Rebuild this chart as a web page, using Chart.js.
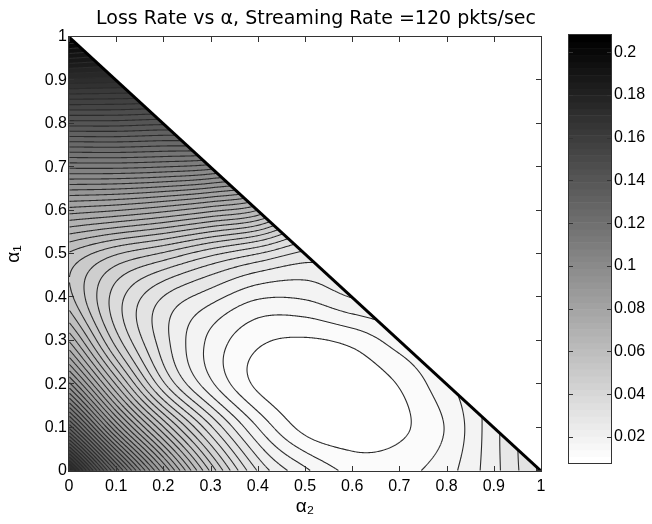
<!DOCTYPE html>
<html>
<head>
<meta charset="utf-8">
<script src="https://cdn.jsdelivr.net/npm/chart.js@4.4.0/dist/chart.umd.min.js"></script>
<style>
  html, body { margin: 0; padding: 0; background: #fff; }
  #wrap { position: relative; width: 652px; height: 524px; }
  #chart { position: absolute; left: 0; top: 0; }
  #bar { position: absolute; left: 530px; top: 0; }
</style>
</head>
<body>
<div id="wrap">
  <canvas id="chart" width="652" height="524"></canvas>
  <canvas id="bar" width="122" height="524"></canvas>
</div>
<script>
// loss rate on a 0.1 grid
// row k is alpha1 = k/10, entry i is alpha2 = i/10 (alpha1 + alpha2 <= 1 only)
let gridStep = 0.1;
let lossGrid = [
    [0.180, 0.128, 0.087, 0.054, 0.031, 0.0205, 0.0145, 0.0145, 0.018, 0.026, 0.036],
    [0.132, 0.090, 0.059, 0.036, 0.0195, 0.0104, 0.009, 0.0108, 0.016, 0.026],
    [0.095, 0.062, 0.036, 0.0205, 0.0108, 0.0082, 0.0085, 0.012, 0.0185],
    [0.070, 0.045, 0.029, 0.0185, 0.0125, 0.0112, 0.0128, 0.0175],
    [0.056, 0.041, 0.031, 0.025, 0.020, 0.020, 0.0235],
    [0.058, 0.051, 0.046, 0.040, 0.035, 0.030],
    [0.080, 0.078, 0.075, 0.071, 0.066],
    [0.110, 0.110, 0.109, 0.107],
    [0.142, 0.142, 0.141],
    [0.174, 0.173],
    [0.208]
];
let lossMin = 0.0078;
let lossMax = 0.208;
let levelStart = 0.0117;
let levelStep = 0.0039;
let levelCount = 50;
let axisTicks = [0, 0.1, 0.2, 0.3, 0.4, 0.5, 0.6, 0.7, 0.8, 0.9, 1];
let barTicks = [0.02, 0.04, 0.06, 0.08, 0.1, 0.12, 0.14, 0.16, 0.18, 0.2];
let titleText = "Loss Rate vs \u03b1, Streaming Rate =120 pkts/sec";

Chart.defaults.font.family = "'Liberation Sans', Arial, sans-serif";
Chart.defaults.color = "#000";

// grid with a ring of extrapolated nodes so the bicubic patch works up to the edges
let G = [];
for (let a = 0; a < 13; a++) {
    G.push(new Array(13).fill(null));
}
lossGrid.forEach((row, j) => row.forEach((v, i) => { G[i + 1][j + 1] = v; }));
for (let pass = 0; pass < 40; pass++) {
    let updates = [];
    for (let a = 0; a < 13; a++) {
        for (let b = 0; b < 13; b++) {
            if (G[a][b] !== null) continue;
            let est = [];
            [[-1, 0], [1, 0], [0, -1], [0, 1]].forEach(d => {
                let a1 = a + d[0], b1 = b + d[1], a2 = a + 2 * d[0], b2 = b + 2 * d[1];
                if (a2 < 0 || b2 < 0 || a2 > 12 || b2 > 12) return;
                if (G[a1][b1] !== null && G[a2][b2] !== null)
                    est.push(2 * G[a1][b1] - G[a2][b2]);
            });
            if (est.length)
                updates.push([a, b, est.reduce((s, e) => s + e, 0) / est.length]);
        }
    }
    if (!updates.length) break;
    updates.forEach(u => { G[u[0]][u[1]] = u[2]; });
}

function cr(p0, p1, p2, p3, t) {
    return p1 + 0.5 * t * (p2 - p0 + t * (2 * p0 - 5 * p1 + 4 * p2 - p3 + t * (3 * (p1 - p2) + p3 - p0)));
}

function lossAt(a2, a1) {
    let u = a2 / gridStep, v = a1 / gridStep;
    let i = Math.min(9, Math.max(0, Math.floor(u)));
    let j = Math.min(9, Math.max(0, Math.floor(v)));
    let rows = [];
    for (let m = 0; m < 4; m++) {
        rows.push(cr(G[i][j + m], G[i + 1][j + m], G[i + 2][j + m], G[i + 3][j + m], u - i));
    }
    return cr(rows[0], rows[1], rows[2], rows[3], v - j);
}

function grayFor(v) {
    let idx = Math.floor((v - lossMin) / (lossMax - lossMin) * 64);
    idx = Math.max(0, Math.min(63, idx));
    return Math.round(255 * (1 - idx / 63));
}

function bandGray(v) {
    let k = Math.floor((v - levelStart) / levelStep) + 1;
    k = Math.max(0, Math.min(levelCount, k));
    return grayFor(k === 0 ? lossMin : levelStart + (k - 1) * levelStep);
}

let lossField = {
    id: "lossField",
    afterLayout(chart) {
        // matlab centres the title a little right of the axes centre
        if (chart.titleBlock) {
            chart.titleBlock.left += 11;
            chart.titleBlock.right += 11;
        }
    },
    beforeDatasetsDraw(chart) {
        let { ctx, chartArea: area, scales: { x, y } } = chart;
        let left = Math.round(area.left), top = Math.round(area.top);
        let w = Math.round(area.right) - left, h = Math.round(area.bottom) - top;
        let vals = new Float32Array(w * h);
        let img = ctx.createImageData(w, h);
        for (let r = 0; r < h; r++) {
            let a1 = y.getValueForPixel(top + r + 0.5);
            for (let c = 0; c < w; c++) {
                let a2 = x.getValueForPixel(left + c + 0.5);
                let p = r * w + c;
                let g = 255;
                if (a1 + a2 <= 1.03) {
                    let v = Math.max(lossMin, Math.min(lossMax, lossAt(a2, a1)));
                    vals[p] = v;
                    if (a1 + a2 <= 1) g = bandGray(v);
                } else {
                    vals[p] = NaN;
                }
                img.data[p * 4] = g;
                img.data[p * 4 + 1] = g;
                img.data[p * 4 + 2] = g;
                img.data[p * 4 + 3] = 255;
            }
        }
        ctx.putImageData(img, left, top);

        // contour lines, marching squares over the pixel samples
        ctx.save();
        ctx.beginPath();
        ctx.moveTo(x.getPixelForValue(0), y.getPixelForValue(0));
        ctx.lineTo(x.getPixelForValue(0), y.getPixelForValue(1));
        ctx.lineTo(x.getPixelForValue(1), y.getPixelForValue(0));
        ctx.closePath();
        ctx.clip();
        ctx.beginPath();
        for (let r = 0; r < h - 1; r++) {
            for (let c = 0; c < w - 1; c++) {
                let v0 = vals[r * w + c], v1 = vals[r * w + c + 1];
                let v2 = vals[(r + 1) * w + c + 1], v3 = vals[(r + 1) * w + c];
                if (isNaN(v0) || isNaN(v1) || isNaN(v2) || isNaN(v3)) continue;
                let lo = Math.min(v0, v1, v2, v3), hi = Math.max(v0, v1, v2, v3);
                let k0 = Math.max(0, Math.ceil((lo - levelStart) / levelStep));
                let k1 = Math.min(levelCount - 1, Math.floor((hi - levelStart) / levelStep));
                let X = left + c + 0.5, Y = top + r + 0.5;
                for (let k = k0; k <= k1; k++) {
                    let L = levelStart + k * levelStep;
                    let pts = [];
                    let corners = [[v0, 0, 0], [v1, 1, 0], [v2, 1, 1], [v3, 0, 1]];
                    for (let e = 0; e < 4; e++) {
                        let A = corners[e], B = corners[(e + 1) % 4];
                        if ((A[0] < L) !== (B[0] < L)) {
                            let t = (L - A[0]) / (B[0] - A[0]);
                            pts.push([X + A[1] + t * (B[1] - A[1]), Y + A[2] + t * (B[2] - A[2])]);
                        }
                    }
                    for (let q = 0; q + 1 < pts.length; q += 2) {
                        ctx.moveTo(pts[q][0], pts[q][1]);
                        ctx.lineTo(pts[q + 1][0], pts[q + 1][1]);
                    }
                }
            }
        }
        ctx.lineWidth = 1.1;
        ctx.strokeStyle = "#2b2b2b";
        ctx.stroke();
        ctx.restore();
    },
    afterDatasetsDraw(chart) {
        let { ctx, chartArea: area, scales: { x, y } } = chart;
        ctx.save();
        ctx.strokeStyle = "#333";
        ctx.lineWidth = 1;
        ctx.beginPath();
        axisTicks.forEach(t => {
            let px = Math.round(x.getPixelForValue(t)) + 0.5;
            let py = Math.round(y.getPixelForValue(t)) - 0.5;
            ctx.moveTo(px, area.bottom); ctx.lineTo(px, area.bottom - 5);
            ctx.moveTo(px, area.top); ctx.lineTo(px, area.top + 5);
            ctx.moveTo(area.left, py); ctx.lineTo(area.left + 5, py);
            ctx.moveTo(area.right, py); ctx.lineTo(area.right - 5, py);
        });
        ctx.stroke();
        ctx.strokeRect(area.left - 0.5, area.top - 0.5, area.right - area.left + 1, area.bottom - area.top + 1);
        ctx.restore();
    }
};

let tickFont = { family: "'Liberation Sans', Arial, sans-serif", size: 16 };
let tickLabel = v => String(Math.round(v * 100) / 100);

let chart = new Chart(document.getElementById("chart"), {
    type: "scatter",
    data: {
        datasets: [{
            label: "edge",
            data: [{ x: 0, y: 1 }, { x: 1, y: 0 }],
            showLine: true,
            borderColor: "#000",
            borderWidth: 3,
            pointRadius: 0
        }]
    },
    options: {
        responsive: false,
        animation: false,
        events: [],
        layout: { padding: { left: 0, top: 0, right: 111, bottom: 0 } },
        plugins: {
            legend: { display: false },
            tooltip: { enabled: false },
            title: {
                display: true,
                text: titleText,
                fullSize: false,
                color: "#000",
                font: { family: "'DejaVu Sans', sans-serif", size: 19, weight: "normal" },
                padding: { top: 7.2, bottom: 7 }
            }
        },
        scales: {
            x: {
                type: "linear",
                min: 0,
                max: 1,
                afterBuildTicks: s => { s.ticks = axisTicks.map(v => ({ value: v })); },
                ticks: { font: tickFont, color: "#000", padding: 6, maxRotation: 0, autoSkip: false, callback: tickLabel },
                grid: { display: false, drawTicks: false },
                border: { display: false },
                title: { display: true, text: "\u03b1\u2082", color: "#000", font: { size: 19 }, padding: { top: 0, bottom: 6 } },
                afterFit: s => { s.height = 53; }
            },
            y: {
                type: "linear",
                min: 0,
                max: 1,
                afterBuildTicks: s => { s.ticks = axisTicks.map(v => ({ value: v })); },
                ticks: { font: tickFont, color: "#000", padding: 2, autoSkip: false, callback: tickLabel },
                grid: { display: false, drawTicks: false },
                border: { display: false },
                title: { display: true, text: "\u03b1\u2081", color: "#000", font: { size: 19 }, padding: { top: 2, bottom: 0 } },
                afterFit: s => { s.width = 69; }
            }
        }
    },
    plugins: [lossField]
});

let colorBar = {
    id: "colorBar",
    beforeDatasetsDraw(chart) {
        let { ctx, chartArea: area, scales: { y } } = chart;
        ctx.save();
        for (let k = 0; k < 64; k++) {
            let v0 = lossMin + k * (lossMax - lossMin) / 64;
            let v1 = lossMin + (k + 1) * (lossMax - lossMin) / 64;
            let g = Math.round(255 * (1 - k / 63));
            let y0 = y.getPixelForValue(v0), y1 = y.getPixelForValue(v1);
            ctx.fillStyle = `rgb(${g},${g},${g})`;
            ctx.fillRect(area.left, y1, area.right - area.left, y0 - y1 + 0.5);
        }
        ctx.strokeStyle = "#333";
        ctx.lineWidth = 1;
        ctx.beginPath();
        barTicks.forEach(t => {
            let py = Math.round(y.getPixelForValue(t)) + 0.5;
            ctx.moveTo(area.left, py); ctx.lineTo(area.left + 4, py);
            ctx.moveTo(area.right, py); ctx.lineTo(area.right - 4, py);
        });
        ctx.stroke();
        ctx.strokeRect(area.left - 0.5, area.top - 0.5, area.right - area.left + 1, area.bottom - area.top + 1);
        ctx.restore();
    }
};

let bar = new Chart(document.getElementById("bar"), {
    type: "scatter",
    data: { datasets: [] },
    options: {
        responsive: false,
        animation: false,
        events: [],
        layout: { padding: { left: 39, top: 35, bottom: 61, right: 0 } },
        plugins: { legend: { display: false }, tooltip: { enabled: false } },
        scales: {
            x: { display: false, min: 0, max: 1 },
            y: {
                position: "right",
                min: lossMin,
                max: lossMax,
                afterBuildTicks: s => { s.ticks = barTicks.map(v => ({ value: v })); },
                ticks: { font: tickFont, color: "#000", padding: 3, callback: tickLabel },
                grid: { display: false, drawTicks: false },
                border: { display: false },
                afterFit: s => { s.width = 41; }
            }
        }
    },
    plugins: [colorBar]
});
</script>
</body>
</html>
